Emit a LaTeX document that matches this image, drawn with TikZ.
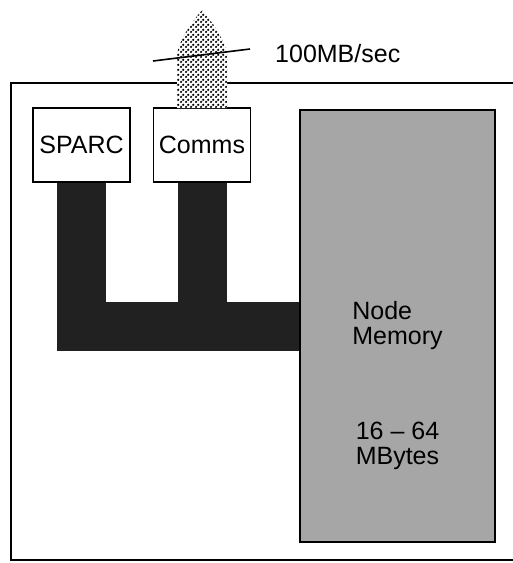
\documentclass[tikz,border=0pt]{standalone}
\usepackage{fontspec}
\setmainfont{Liberation Sans}
\usepackage{tikz}
\usetikzlibrary{shapes}
\usetikzlibrary{arrows}
\usetikzlibrary{patterns.meta}
\usetikzlibrary{positioning}
\tikzdeclarepattern{
  name=chk_dots,
  type=uncolored,
  bottom left={(0pt,0pt)},
  top right={(5pt,5pt)},
  tile size={(5pt,5pt)},
  code={
    \fill (1.25pt,1.25pt) circle (1.45pt);
    \fill (3.75pt,3.75pt) circle (1.45pt);
  }
}
\tikzset{
  boxnode/.style = {align=center, inner sep=0pt, text centered,
    font=\fontsize{25}{25}\selectfont},
  chip_box/.style = {boxnode, rectangle, draw=black, fill=white,
    line width=1.6pt, minimum width=97pt, minimum height=74pt},% processeur, liens
  mem_box/.style = {boxnode, rectangle, draw=black, fill=black!35,
    line width=1.6pt, minimum width=195pt, minimum height=432pt},% memoire
  mem_text/.style = {boxnode, align=left},
  bus_line/.style = {draw=black!87, line width=49pt, line join=miter},% bus interne
  link_arrow/.style = {preaction={fill=white}, pattern=chk_dots,
    pattern color=black},% lien sortant
  frame_line/.style = {draw=black, line width=2.4pt}
}
\begin{document}
\begin{tikzpicture}[x=1pt, y=-1pt]
      \clip (0,0) rectangle (513,563);
      \draw [frame_line] (11,83) rectangle (540,560);
      \node [chip_box] (sparc) at (81.5,145) {SPARC};
      \node [chip_box] (comms) at (202,145) {Comms};
      \node [mem_box] (memory) at (397.5,326) {};
      \node [mem_text] (mem_name) at (memory.center) {Node\\Memory};
      \node [mem_text] (mem_size) at ([yshift=-120pt]memory.center) {16 -- 64\\MBytes};
      \draw [bus_line] (sparc.south) |- (memory.west);
      \draw [bus_line] (comms.south) -- (comms.south |- memory.west);
      \fill [link_arrow] (177,108) -- (177,54)
          .. controls (180,38) and (192,22) .. (202,10)
          .. controls (212,22) and (224,38) .. (227,54)
          -- (227,108) -- cycle;
      \coordinate (slash_a) at (153,61);
      \coordinate (slash_b) at (250,49);
      \draw [line width=1.6pt] (slash_a) -- (slash_b);
      \node [boxnode, anchor=west] (rate) at (275,54) {100MB/sec};
    \end{tikzpicture}
\end{document}
